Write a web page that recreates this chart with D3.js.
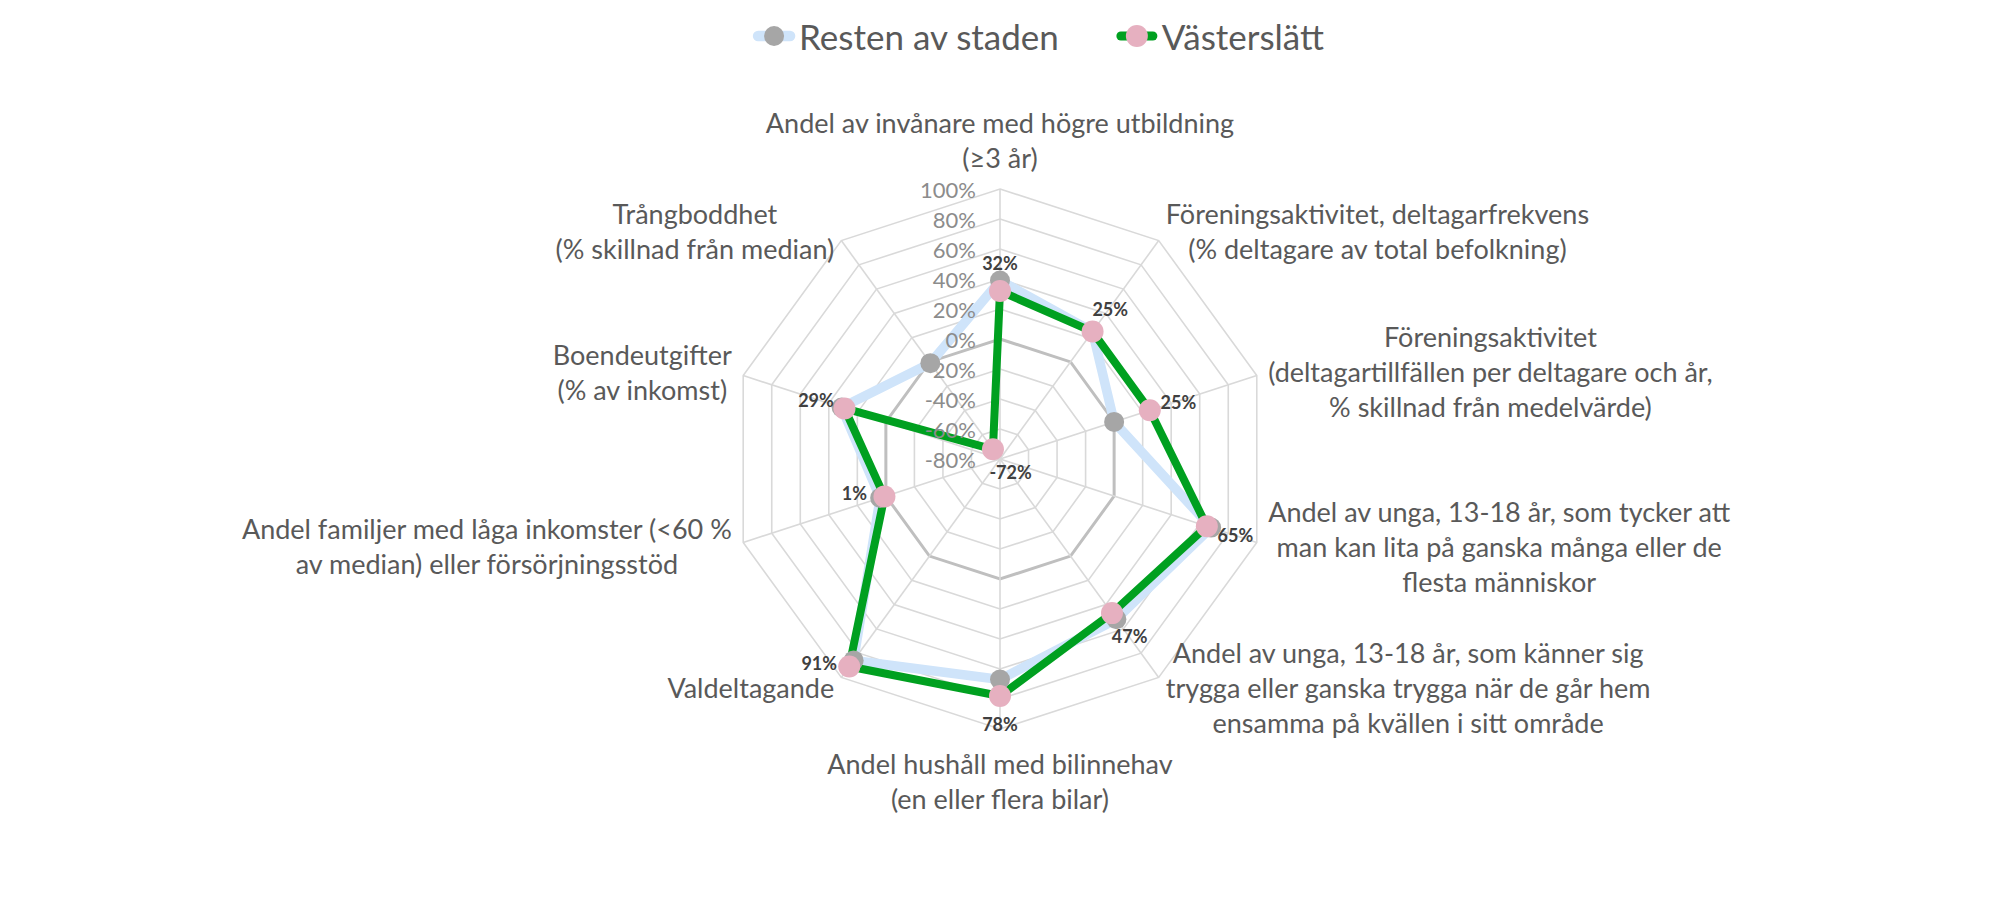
<!DOCTYPE html>
<html>
<head>
<meta charset="utf-8">
<script src="https://cdn.jsdelivr.net/npm/d3@7"></script>
<style>
  body { margin: 0; background: #fff; }
  svg text { font-family: Lato, "Open Sans", sans-serif; }
</style>
</head>
<body>
<svg id="chart" width="2000" height="920"></svg>
<script>
// axis titles, one entry per spoke, each split into its lines
const categories = [
  ["Andel av invånare med högre utbildning", "(≥3 år)"],
  ["Föreningsaktivitet, deltagarfrekvens", "(% deltagare av total befolkning)"],
  ["Föreningsaktivitet", "(deltagartillfällen per deltagare och år,", "% skillnad från medelvärde)"],
  ["Andel av unga, 13-18 år, som tycker att", "man kan lita på ganska många eller de", "flesta människor"],
  ["Andel av unga, 13-18 år, som känner sig", "trygga eller ganska trygga när de går hem", "ensamma på kvällen i sitt område"],
  ["Andel hushåll med bilinnehav", "(en eller flera bilar)"],
  ["Valdeltagande"],
  ["Andel familjer med låga inkomster (<60 %", "av median) eller försörjningsstöd"],
  ["Boendeutgifter", "(% av inkomst)"],
  ["Trångboddhet", "(% skillnad från median)"]
];
const resten = [39, 25, 0, 68, 52, 67, 86, 4, 31, -1];
const vasterslatt = [32, 25, 25, 65, 47, 78, 91, 1, 29, -72];
const seriesNames = ["Resten av staden", "Västerslätt"];
const tickValues = [-80, -60, -40, -20, 0, 20, 40, 60, 80, 100];

const svg = d3.select("#chart");
const cx = 1000, cy = 459, R = 270;
const n = categories.length;

const rScale = d3.scaleLinear().domain([-80, 100]).range([0, R]);
const angle = (i) => (i * 2 * Math.PI) / n;
const px = (i, v) => cx + rScale(v) * Math.sin(angle(i));
const py = (i, v) => cy - rScale(v) * Math.cos(angle(i));

const radial = d3
  .lineRadial()
  .angle((d, i) => angle(i))
  .radius((d) => rScale(d))
  .curve(d3.curveLinearClosed);

const g = svg.append("g").attr("transform", `translate(${cx},${cy})`);

// grid rings
g.selectAll(".ring")
  .data(tickValues.slice(1))
  .enter()
  .append("path")
  .attr("d", (t) => radial(d3.range(n).map(() => t)))
  .attr("fill", "none")
  .attr("stroke", (t) => (t === 0 ? "#bfbfbf" : "#d9d9d9"))
  .attr("stroke-width", (t) => (t === 0 ? 3 : 1.6));

// spokes
g.selectAll(".spoke")
  .data(d3.range(n))
  .enter()
  .append("line")
  .attr("x1", 0)
  .attr("y1", 0)
  .attr("x2", (i) => rScale(100) * Math.sin(angle(i)))
  .attr("y2", (i) => -rScale(100) * Math.cos(angle(i)))
  .attr("stroke", "#d9d9d9")
  .attr("stroke-width", 1.6);

// tick labels
svg
  .append("g")
  .selectAll("text")
  .data(tickValues)
  .enter()
  .append("text")
  .attr("x", cx - 24)
  .attr("y", (t) => cy - rScale(t))
  .attr("text-anchor", "end")
  .attr("dominant-baseline", "central")
  .attr("fill", "#8c8c8c")
  .style("font-size", "22px")
  .text((t) => t + "%");

// series
const series = [
  { name: seriesNames[0], values: resten, line: "#cfe4fa", lw: 9.5, marker: "#a6a6a6", mr: 10 },
  { name: seriesNames[1], values: vasterslatt, line: "#00a020", lw: 8, marker: "#e6b0c0", mr: 11 }
];

series.forEach((s) => {
  g.append("path")
    .attr("d", radial(s.values))
    .attr("fill", "none")
    .attr("stroke", s.line)
    .attr("stroke-width", s.lw)
    .attr("stroke-linejoin", "round");

  svg
    .append("g")
    .selectAll("circle")
    .data(s.values)
    .enter()
    .append("circle")
    .attr("cx", (d, i) => px(i, d))
    .attr("cy", (d, i) => py(i, d))
    .attr("r", s.mr)
    .attr("fill", s.marker);
});

// data labels for Västerslätt: pushed outward along the spoke,
// inward when the point sits near the centre, sideways in the lower left
const labelDir = (d, i) => {
  const s = Math.sin(angle(i)), c = Math.cos(angle(i));
  if (rScale(d) < 30) return [-s, c];
  if (s < -0.1 && c < -0.1) return [-1, -0.12];
  return [s, -c];
};
svg
  .append("g")
  .selectAll("text")
  .data(vasterslatt)
  .enter()
  .append("text")
  .attr("x", (d, i) => px(i, d) + 30 * labelDir(d, i)[0])
  .attr("y", (d, i) => py(i, d) + 28 * labelDir(d, i)[1])
  .attr("text-anchor", "middle")
  .attr("dominant-baseline", "central")
  .attr("fill", "#404040")
  .style("font-size", "18px")
  .style("font-weight", 700)
  .text((d) => d + "%");

// category labels
const lineH = 35;
categories.forEach((lines, i) => {
  const a = angle(i);
  const vx = px(i, 100), vy = py(i, 100);
  const s = Math.sin(a), c = Math.cos(a);
  const grp = svg.append("g");
  const texts = grp
    .selectAll("text")
    .data(lines)
    .enter()
    .append("text")
    .attr("text-anchor", "middle")
    .attr("dominant-baseline", "central")
    .attr("fill", "#595959")
    .style("font-size", "27px")
    .text((d) => d);
  const w = d3.max(texts.nodes(), (nd) => nd.getComputedTextLength());
  const h = lines.length * lineH;
  let x, yc;
  if (Math.abs(s) < 0.1) {
    x = vx;
    yc = c > 0 ? vy - 14 - h / 2 : vy + 17 + h / 2;
  } else {
    const gap = 12 * Math.abs(s);
    x = s > 0 ? vx + gap + w / 2 : vx - gap - w / 2;
    yc = vy - 12 * c;
  }
  texts
    .attr("x", x)
    .attr("y", (d, k) => yc + (k - (lines.length - 1) / 2) * lineH);
});

// legend
const legend = svg.append("g");
const items = legend
  .selectAll("g")
  .data(series)
  .enter()
  .append("g");
items
  .append("text")
  .attr("dominant-baseline", "central")
  .attr("y", 36)
  .attr("fill", "#595959")
  .style("font-size", "35px")
  .text((d) => d.name);
const widths = items.select("text").nodes().map((nd) => nd.getComputedTextLength());
const markW = 40, markGap = 5, itemGap = 58;
const total = d3.sum(widths) + series.length * (markW + markGap) + itemGap * (series.length - 1);
let lx = 1039 - total / 2;
items.each(function (d, i) {
  const it = d3.select(this);
  const x0 = lx;
  it.insert("line", "text")
    .attr("x1", x0 + 4)
    .attr("x2", x0 + markW - 4)
    .attr("y1", 36)
    .attr("y2", 36)
    .attr("stroke", d.line)
    .attr("stroke-width", d.lw + 1)
    .attr("stroke-linecap", "round");
  it.insert("circle", "text")
    .attr("cx", x0 + markW / 2)
    .attr("cy", 36)
    .attr("r", d.mr)
    .attr("fill", d.marker);
  it.select("text").attr("x", x0 + markW + markGap);
  lx += markW + markGap + widths[i] + itemGap;
});
</script>
</body>
</html>
